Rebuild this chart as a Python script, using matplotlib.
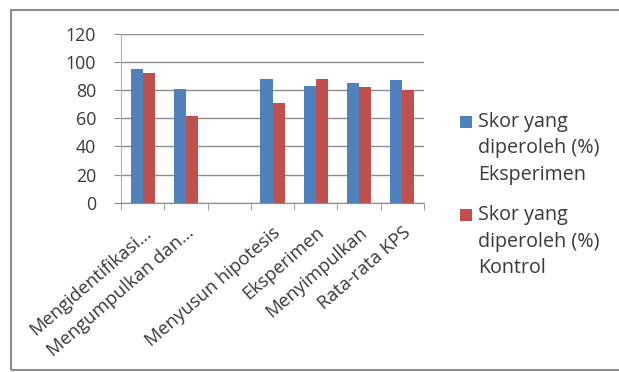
import matplotlib
matplotlib.use("Agg")
import matplotlib.pyplot as plt
import matplotlib.transforms as mtransforms
from matplotlib.patches import Rectangle
from matplotlib.container import BarContainer
from matplotlib.legend_handler import HandlerPatch, update_from_first_child
import numpy as np

categories = ["Mengidentifikasi…", "Mengumpulkan dan…", "", "Menyusun hipotesis",
              "Eksperimen", "Menyimpulkan", "Rata-rata KPS"]
eksperimen = [95, 81, np.nan, 88, 83, 85, 87]
kontrol = [92, 62, np.nan, 71, 88, 82, 80]
series_labels = ["Skor yang\ndiperoleh (%)\nEksperimen", "Skor yang\ndiperoleh (%)\nKontrol"]
yticks = [0, 20, 40, 60, 80, 100, 120]

plt.rcParams['font.family'] = ['Open Sans', 'DejaVu Sans']
W, H = 619, 372
fig = plt.figure(figsize=(W / 100, H / 100), dpi=100)
fig.patch.set_facecolor('white')

# outer frame (left, top, bottom visible; right edge beyond the image)
fig.patches.append(Rectangle((11 / W, (H - 370) / H), 1.2, (370 - 10) / H,
                             transform=fig.transFigure, fill=False,
                             edgecolor='#8c8c8c', linewidth=1.5))

ax = fig.add_axes([121 / W, (H - 202.7) / H, (424 - 121) / W, (202.7 - 34) / H])
x = np.arange(len(categories))
bw = 0.28
ax.bar(x - bw / 2, eksperimen, bw, color='#4F81BD', label=series_labels[0])
ax.bar(x + bw / 2, kontrol, bw, color='#C0504D', label=series_labels[1])

ax.set_xlim(-0.5, len(categories) - 0.5)
ax.set_ylim(0, 120)
ax.set_yticks(yticks)
ax.yaxis.grid(True, color='#8c8c8c', linewidth=1.0)
ax.set_axisbelow(True)
for s in ['top', 'right']:
    ax.spines[s].set_visible(False)
ax.spines['left'].set_color('#b0b0b0')
ax.spines['bottom'].set_color('#8c8c8c')
ax.tick_params(axis='y', length=5, color='#8c8c8c', pad=13, labelsize=12.8, labelcolor='#3a3a3a')

ax.set_xticks(x)
ax.set_xticklabels(categories, rotation=41, ha='right', va='top', rotation_mode='anchor',
                   fontsize=13.2, color='#3a3a3a')
ax.set_xticks(np.arange(-0.5, len(categories) + 0.5, 1), minor=True)
ax.tick_params(axis='x', which='major', length=0, pad=15)
ax.tick_params(axis='x', which='minor', length=5, color='#8c8c8c')
offset = mtransforms.ScaledTranslation(0 / 100, 0, fig.dpi_scale_trans)
for lbl in ax.get_xticklabels():
    lbl.set_transform(lbl.get_transform() + offset)

LEG_FS = 14.2
SHIFT = 19.5  # points: put the square beside the first text line


def top_square(legend, orig_handle, xdescent, ydescent, width, height, fontsize):
    return Rectangle((-xdescent, -ydescent + SHIFT), width, height)


handles, labels = ax.get_legend_handles_labels()
leg = fig.legend(handles, labels, loc='upper left', bbox_to_anchor=(442 / W, (H - 94) / H),
                 frameon=False, fontsize=LEG_FS, handlelength=0.62, handleheight=0.6,
                 handletextpad=0.3, labelspacing=1.0,
                 handler_map={BarContainer: HandlerPatch(patch_func=top_square,
                                                         update_func=update_from_first_child)})
for t in leg.get_texts():
    t.set_linespacing(1.45)
    t.set_color('#3a3a3a')

fig.savefig('out.png', dpi=100, facecolor='white')
